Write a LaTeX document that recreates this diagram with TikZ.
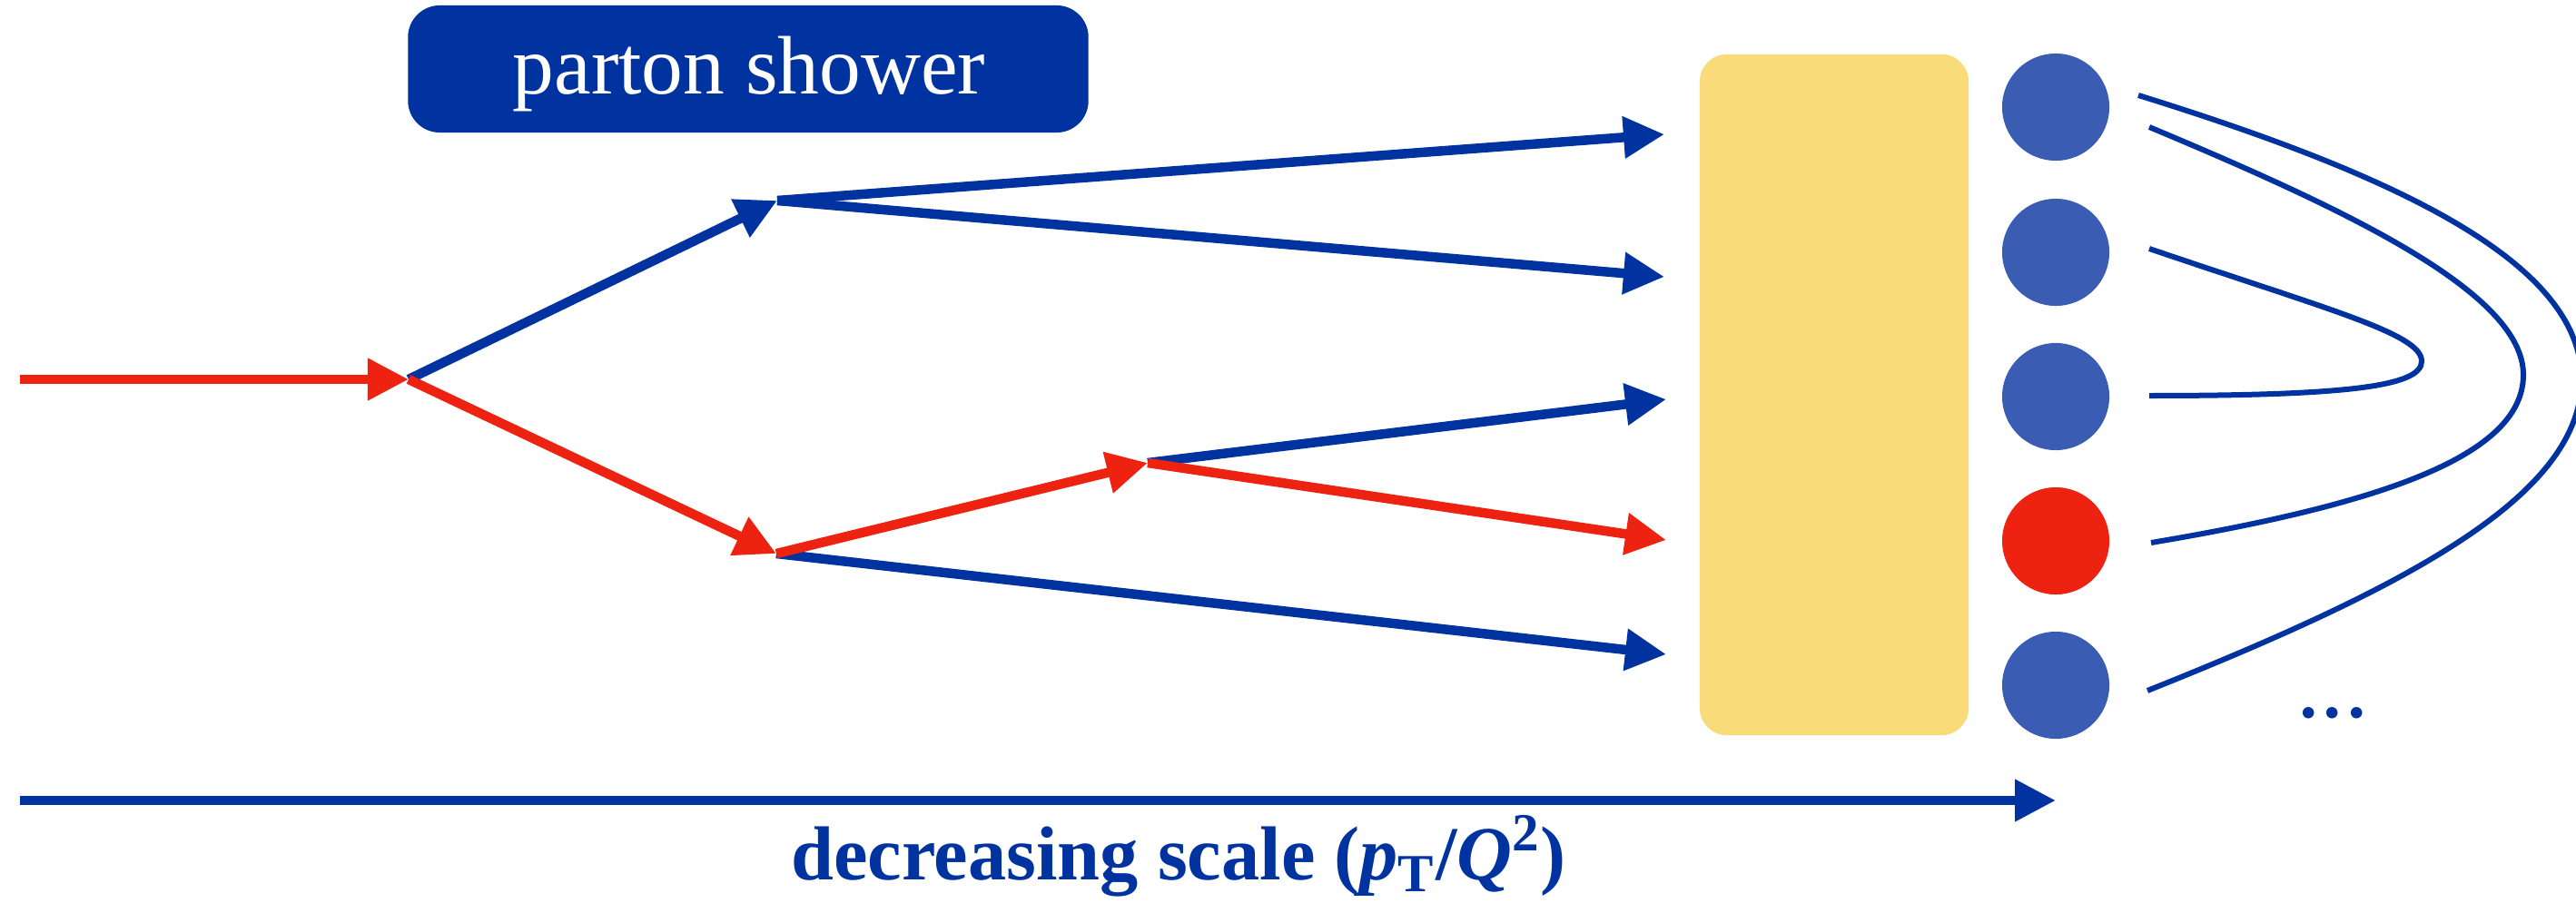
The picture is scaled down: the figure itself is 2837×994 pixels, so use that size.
\documentclass[tikz,border=0pt]{standalone}
\usepackage{fontspec}
\setmainfont{Liberation Serif}
\usetikzlibrary{arrows.meta}
\definecolor{dblue}{RGB}{0,51,160}
\definecolor{pred}{RGB}{238,34,16}
\definecolor{cblue}{RGB}{58,92,178}
\definecolor{hyell}{RGB}{249,219,122}
\begin{document}
\begin{tikzpicture}[x={(0.01cm,0)}, y={(0,-0.01cm)},
  gline/.style={line width=0.105cm, -{Triangle[length=0.45cm,width=0.44cm]}},
  bline/.style={gline, draw=dblue, fill=dblue},
  rline/.style={gline, draw=pred, fill=pred},
  hadron/.style={circle, inner sep=0pt, minimum size=1.18cm, fill=cblue},
  string/.style={draw=dblue, line width=0.06cm},
  every node/.style={inner sep=0pt}]
\useasboundingbox (0,0) rectangle (2837,994);

% parton shower label
\node[fill=dblue, rounded corners=0.35cm, minimum width=7.49cm, minimum height=1.40cm] (psbox) at (824,76) {};
\node[text=white, font=\fontsize{26}{30}\selectfont, anchor=base] (pstext) at (825,104) {parton shower};

% hadronisation box
\node[fill=hyell, rounded corners=0.3cm, minimum width=2.96cm, minimum height=7.5cm] (had) at (2020,435) {};

% hadrons
\node[hadron] (c1) at (2264,118) {};
\node[hadron] (c2) at (2264,278) {};
\node[hadron] (c3) at (2264,437) {};
\node[hadron, fill=pred] (c4) at (2264,596) {};
\node[hadron] (c5) at (2264,755) {};

% vertices and ends
\coordinate (s0) at (22,418);
\coordinate (v1) at (450,418);
\coordinate (v2) at (856,221);
\coordinate (v3) at (855,610);
\coordinate (v4) at (1264,510);
\coordinate (t1) at (1833,148);
\coordinate (t2) at (1833,305);
\coordinate (t3) at (1835,440);
\coordinate (t4) at (1835,595);
\coordinate (t5) at (1835,721);

% shower
\draw[rline] (s0) -- (v1);
\draw[bline] (v1) -- (v2);
\draw[rline] (v1) -- (v3);
\draw[bline] (v2) -- (t1);
\draw[bline] (v2) -- (t2);
\draw[bline] (v3) -- (t5);
\draw[bline] (v4) -- (t3);
\draw[rline] (v3) -- (v4);
\draw[rline] (v4) -- (t4);

% strings
\coordinate (a1) at (2355,105);
\coordinate (a2) at (2365,761);
\coordinate (b1) at (2367,140);
\coordinate (b2) at (2369,598);
\coordinate (d1) at (2367,274);
\coordinate (d2) at (2367,436);
\draw[string] (a1) .. controls (2635,192) and (2843,288) .. (2843,418)
  .. controls (2843,548) and (2645,649) .. (a2);
\draw[string] (b1) .. controls (2587,232) and (2779,323) .. (2779,413)
  .. controls (2779,503) and (2619,556) .. (b2);
\draw[string] (d1) .. controls (2567,342) and (2667,368) .. (2667,398)
  .. controls (2667,425) and (2590,436) .. (d2);

\node[text=dblue, font=\fontsize{30}{34}\selectfont, anchor=base] (dots) at (2569,790) {...};

% scale axis
\coordinate (x0) at (22,882);
\coordinate (x1) at (2264,882);
\draw[bline] (x0) -- (x1);
\node[text=dblue, font=\bfseries\fontsize{24}{28}\selectfont, anchor=base] (scale) at (1298,969)
  {decreasing scale (\textit{p}\textsubscript{T}/\textit{Q}\textsuperscript{2})};
\end{tikzpicture}
\end{document}
